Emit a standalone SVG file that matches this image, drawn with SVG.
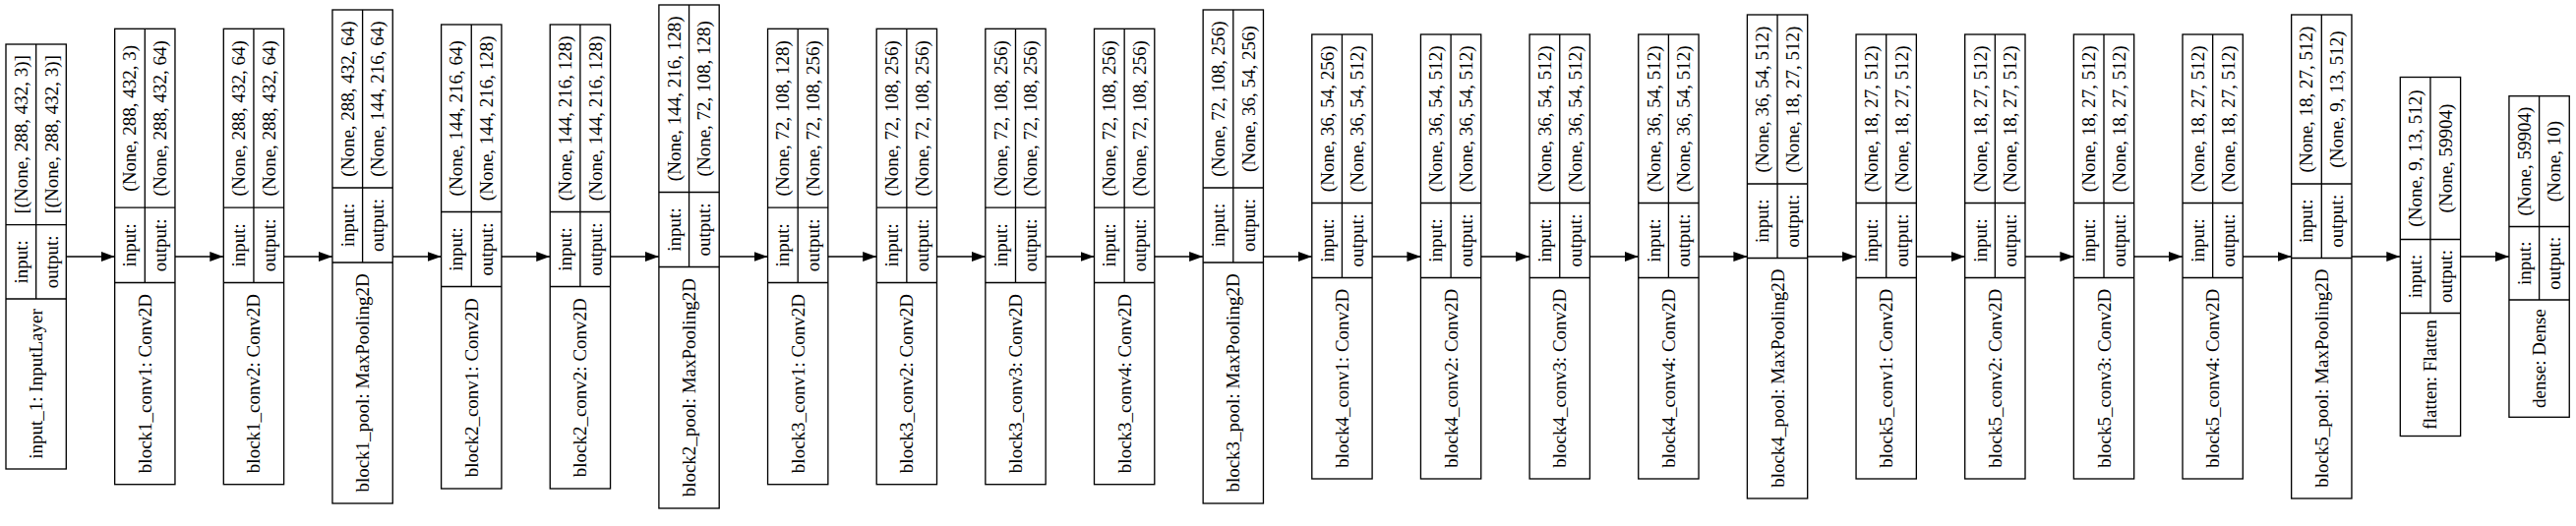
<svg xmlns="http://www.w3.org/2000/svg" width="2619" height="535" viewBox="0 0 2619 535">
<style>
.bg{fill:#fff}
.box{fill:#fff;stroke:#000;stroke-width:1.33}
.ln{stroke:#000;stroke-width:1.33}
text{font-family:"Liberation Serif","Times New Roman",serif;font-size:19px;text-anchor:middle;dominant-baseline:central;fill:#000}
.edge{stroke:#000;stroke-width:1.33;fill:none;marker-end:url(#arr)}
</style>
<defs>
<marker id="arr" markerUnits="userSpaceOnUse" markerWidth="14" markerHeight="10" refX="14" refY="5" orient="auto">
<path d="M0,0 L14,5 L0,10 z" fill="#000"/>
</marker>
</defs>
<rect class="bg" x="0" y="0" width="2619" height="535"/>
<g id="connectors">
<path class="edge" d="M67.3,261 H116.65"/>
<path class="edge" d="M177.95,261 H227.3"/>
<path class="edge" d="M288.6,261 H337.95"/>
<path class="edge" d="M399.25,261 H448.6"/>
<path class="edge" d="M509.9,261 H559.25"/>
<path class="edge" d="M620.55,261 H669.9"/>
<path class="edge" d="M731.2,261 H780.55"/>
<path class="edge" d="M841.85,261 H891.2"/>
<path class="edge" d="M952.5,261 H1001.85"/>
<path class="edge" d="M1063.15,261 H1112.5"/>
<path class="edge" d="M1173.8,261 H1223.15"/>
<path class="edge" d="M1284.45,261 H1333.8"/>
<path class="edge" d="M1395.1,261 H1444.45"/>
<path class="edge" d="M1505.75,261 H1555.1"/>
<path class="edge" d="M1616.4,261 H1665.75"/>
<path class="edge" d="M1727.05,261 H1776.4"/>
<path class="edge" d="M1837.7,261 H1887.05"/>
<path class="edge" d="M1948.35,261 H1997.7"/>
<path class="edge" d="M2059,261 H2108.35"/>
<path class="edge" d="M2169.65,261 H2219"/>
<path class="edge" d="M2280.3,261 H2329.65"/>
<path class="edge" d="M2390.95,261 H2440.3"/>
<path class="edge" d="M2501.6,261 H2550.95"/>
</g>

<g id="input_1" transform="translate(6,0)">
<rect class="box" x="0" y="45" width="61.3" height="432"/>
<path class="ln" d="M0,228.7 H61.3 M0,304 H61.3 M30.65,45 V304"/>
<text transform="translate(15.3,136.85) rotate(-90)">[(None, 288, 432, 3)]</text>
<text transform="translate(46,136.85) rotate(-90)">[(None, 288, 432, 3)]</text>
<text transform="translate(15.3,266.35) rotate(-90)">input:</text>
<text transform="translate(46,266.35) rotate(-90)">output:</text>
<text transform="translate(30.65,390.5) rotate(-90)">input_1: InputLayer</text>
</g>

<g id="block1_conv1" transform="translate(116.65,0)">
<rect class="box" x="0" y="29.3" width="61.3" height="463.4"/>
<path class="ln" d="M0,211.2 H61.3 M0,287.5 H61.3 M30.65,29.3 V287.5"/>
<text transform="translate(15.3,120.25) rotate(-90)">(None, 288, 432, 3)</text>
<text transform="translate(46,120.25) rotate(-90)">(None, 288, 432, 64)</text>
<text transform="translate(15.3,249.35) rotate(-90)">input:</text>
<text transform="translate(46,249.35) rotate(-90)">output:</text>
<text transform="translate(30.65,390.1) rotate(-90)">block1_conv1: Conv2D</text>
</g>

<g id="block1_conv2" transform="translate(227.3,0)">
<rect class="box" x="0" y="29.3" width="61.3" height="463.4"/>
<path class="ln" d="M0,211.2 H61.3 M0,287.5 H61.3 M30.65,29.3 V287.5"/>
<text transform="translate(15.3,120.25) rotate(-90)">(None, 288, 432, 64)</text>
<text transform="translate(46,120.25) rotate(-90)">(None, 288, 432, 64)</text>
<text transform="translate(15.3,249.35) rotate(-90)">input:</text>
<text transform="translate(46,249.35) rotate(-90)">output:</text>
<text transform="translate(30.65,390.1) rotate(-90)">block1_conv2: Conv2D</text>
</g>

<g id="block1_pool" transform="translate(337.95,0)">
<rect class="box" x="0" y="10" width="61.3" height="502"/>
<path class="ln" d="M0,191 H61.3 M0,267 H61.3 M30.65,10 V267"/>
<text transform="translate(15.3,100.5) rotate(-90)">(None, 288, 432, 64)</text>
<text transform="translate(46,100.5) rotate(-90)">(None, 144, 216, 64)</text>
<text transform="translate(15.3,229) rotate(-90)">input:</text>
<text transform="translate(46,229) rotate(-90)">output:</text>
<text transform="translate(30.65,389.5) rotate(-90)">block1_pool: MaxPooling2D</text>
</g>

<g id="block2_conv1" transform="translate(448.6,0)">
<rect class="box" x="0" y="25" width="61.3" height="472"/>
<path class="ln" d="M0,215.5 H61.3 M0,291.5 H61.3 M30.65,25 V291.5"/>
<text transform="translate(15.3,120.25) rotate(-90)">(None, 144, 216, 64)</text>
<text transform="translate(46,120.25) rotate(-90)">(None, 144, 216, 128)</text>
<text transform="translate(15.3,253.5) rotate(-90)">input:</text>
<text transform="translate(46,253.5) rotate(-90)">output:</text>
<text transform="translate(30.65,394.25) rotate(-90)">block2_conv1: Conv2D</text>
</g>

<g id="block2_conv2" transform="translate(559.25,0)">
<rect class="box" x="0" y="25" width="61.3" height="472"/>
<path class="ln" d="M0,215.5 H61.3 M0,291.5 H61.3 M30.65,25 V291.5"/>
<text transform="translate(15.3,120.25) rotate(-90)">(None, 144, 216, 128)</text>
<text transform="translate(46,120.25) rotate(-90)">(None, 144, 216, 128)</text>
<text transform="translate(15.3,253.5) rotate(-90)">input:</text>
<text transform="translate(46,253.5) rotate(-90)">output:</text>
<text transform="translate(30.65,394.25) rotate(-90)">block2_conv2: Conv2D</text>
</g>

<g id="block2_pool" transform="translate(669.9,0)">
<rect class="box" x="0" y="5" width="61.3" height="512"/>
<path class="ln" d="M0,195.5 H61.3 M0,271.5 H61.3 M30.65,5 V271.5"/>
<text transform="translate(15.3,100.25) rotate(-90)">(None, 144, 216, 128)</text>
<text transform="translate(46,100.25) rotate(-90)">(None, 72, 108, 128)</text>
<text transform="translate(15.3,233.5) rotate(-90)">input:</text>
<text transform="translate(46,233.5) rotate(-90)">output:</text>
<text transform="translate(30.65,394.25) rotate(-90)">block2_pool: MaxPooling2D</text>
</g>

<g id="block3_conv1" transform="translate(780.55,0)">
<rect class="box" x="0" y="29.3" width="61.3" height="463.4"/>
<path class="ln" d="M0,211.2 H61.3 M0,287.5 H61.3 M30.65,29.3 V287.5"/>
<text transform="translate(15.3,120.25) rotate(-90)">(None, 72, 108, 128)</text>
<text transform="translate(46,120.25) rotate(-90)">(None, 72, 108, 256)</text>
<text transform="translate(15.3,249.35) rotate(-90)">input:</text>
<text transform="translate(46,249.35) rotate(-90)">output:</text>
<text transform="translate(30.65,390.1) rotate(-90)">block3_conv1: Conv2D</text>
</g>

<g id="block3_conv2" transform="translate(891.2,0)">
<rect class="box" x="0" y="29.3" width="61.3" height="463.4"/>
<path class="ln" d="M0,211.2 H61.3 M0,287.5 H61.3 M30.65,29.3 V287.5"/>
<text transform="translate(15.3,120.25) rotate(-90)">(None, 72, 108, 256)</text>
<text transform="translate(46,120.25) rotate(-90)">(None, 72, 108, 256)</text>
<text transform="translate(15.3,249.35) rotate(-90)">input:</text>
<text transform="translate(46,249.35) rotate(-90)">output:</text>
<text transform="translate(30.65,390.1) rotate(-90)">block3_conv2: Conv2D</text>
</g>

<g id="block3_conv3" transform="translate(1001.85,0)">
<rect class="box" x="0" y="29.3" width="61.3" height="463.4"/>
<path class="ln" d="M0,211.2 H61.3 M0,287.5 H61.3 M30.65,29.3 V287.5"/>
<text transform="translate(15.3,120.25) rotate(-90)">(None, 72, 108, 256)</text>
<text transform="translate(46,120.25) rotate(-90)">(None, 72, 108, 256)</text>
<text transform="translate(15.3,249.35) rotate(-90)">input:</text>
<text transform="translate(46,249.35) rotate(-90)">output:</text>
<text transform="translate(30.65,390.1) rotate(-90)">block3_conv3: Conv2D</text>
</g>

<g id="block3_conv4" transform="translate(1112.5,0)">
<rect class="box" x="0" y="29.3" width="61.3" height="463.4"/>
<path class="ln" d="M0,211.2 H61.3 M0,287.5 H61.3 M30.65,29.3 V287.5"/>
<text transform="translate(15.3,120.25) rotate(-90)">(None, 72, 108, 256)</text>
<text transform="translate(46,120.25) rotate(-90)">(None, 72, 108, 256)</text>
<text transform="translate(15.3,249.35) rotate(-90)">input:</text>
<text transform="translate(46,249.35) rotate(-90)">output:</text>
<text transform="translate(30.65,390.1) rotate(-90)">block3_conv4: Conv2D</text>
</g>

<g id="block3_pool" transform="translate(1223.15,0)">
<rect class="box" x="0" y="10" width="61.3" height="502"/>
<path class="ln" d="M0,191 H61.3 M0,267 H61.3 M30.65,10 V267"/>
<text transform="translate(15.3,100.5) rotate(-90)">(None, 72, 108, 256)</text>
<text transform="translate(46,100.5) rotate(-90)">(None, 36, 54, 256)</text>
<text transform="translate(15.3,229) rotate(-90)">input:</text>
<text transform="translate(46,229) rotate(-90)">output:</text>
<text transform="translate(30.65,389.5) rotate(-90)">block3_pool: MaxPooling2D</text>
</g>

<g id="block4_conv1" transform="translate(1333.8,0)">
<rect class="box" x="0" y="35" width="61.3" height="452"/>
<path class="ln" d="M0,206.5 H61.3 M0,282.5 H61.3 M30.65,35 V282.5"/>
<text transform="translate(15.3,120.75) rotate(-90)">(None, 36, 54, 256)</text>
<text transform="translate(46,120.75) rotate(-90)">(None, 36, 54, 512)</text>
<text transform="translate(15.3,244.5) rotate(-90)">input:</text>
<text transform="translate(46,244.5) rotate(-90)">output:</text>
<text transform="translate(30.65,384.75) rotate(-90)">block4_conv1: Conv2D</text>
</g>

<g id="block4_conv2" transform="translate(1444.45,0)">
<rect class="box" x="0" y="35" width="61.3" height="452"/>
<path class="ln" d="M0,206.5 H61.3 M0,282.5 H61.3 M30.65,35 V282.5"/>
<text transform="translate(15.3,120.75) rotate(-90)">(None, 36, 54, 512)</text>
<text transform="translate(46,120.75) rotate(-90)">(None, 36, 54, 512)</text>
<text transform="translate(15.3,244.5) rotate(-90)">input:</text>
<text transform="translate(46,244.5) rotate(-90)">output:</text>
<text transform="translate(30.65,384.75) rotate(-90)">block4_conv2: Conv2D</text>
</g>

<g id="block4_conv3" transform="translate(1555.1,0)">
<rect class="box" x="0" y="35" width="61.3" height="452"/>
<path class="ln" d="M0,206.5 H61.3 M0,282.5 H61.3 M30.65,35 V282.5"/>
<text transform="translate(15.3,120.75) rotate(-90)">(None, 36, 54, 512)</text>
<text transform="translate(46,120.75) rotate(-90)">(None, 36, 54, 512)</text>
<text transform="translate(15.3,244.5) rotate(-90)">input:</text>
<text transform="translate(46,244.5) rotate(-90)">output:</text>
<text transform="translate(30.65,384.75) rotate(-90)">block4_conv3: Conv2D</text>
</g>

<g id="block4_conv4" transform="translate(1665.75,0)">
<rect class="box" x="0" y="35" width="61.3" height="452"/>
<path class="ln" d="M0,206.5 H61.3 M0,282.5 H61.3 M30.65,35 V282.5"/>
<text transform="translate(15.3,120.75) rotate(-90)">(None, 36, 54, 512)</text>
<text transform="translate(46,120.75) rotate(-90)">(None, 36, 54, 512)</text>
<text transform="translate(15.3,244.5) rotate(-90)">input:</text>
<text transform="translate(46,244.5) rotate(-90)">output:</text>
<text transform="translate(30.65,384.75) rotate(-90)">block4_conv4: Conv2D</text>
</g>

<g id="block4_pool" transform="translate(1776.4,0)">
<rect class="box" x="0" y="15" width="61.3" height="492"/>
<path class="ln" d="M0,187 H61.3 M0,262.5 H61.3 M30.65,15 V262.5"/>
<text transform="translate(15.3,101) rotate(-90)">(None, 36, 54, 512)</text>
<text transform="translate(46,101) rotate(-90)">(None, 18, 27, 512)</text>
<text transform="translate(15.3,224.75) rotate(-90)">input:</text>
<text transform="translate(46,224.75) rotate(-90)">output:</text>
<text transform="translate(30.65,384.75) rotate(-90)">block4_pool: MaxPooling2D</text>
</g>

<g id="block5_conv1" transform="translate(1887.05,0)">
<rect class="box" x="0" y="35" width="61.3" height="452"/>
<path class="ln" d="M0,206.5 H61.3 M0,282.5 H61.3 M30.65,35 V282.5"/>
<text transform="translate(15.3,120.75) rotate(-90)">(None, 18, 27, 512)</text>
<text transform="translate(46,120.75) rotate(-90)">(None, 18, 27, 512)</text>
<text transform="translate(15.3,244.5) rotate(-90)">input:</text>
<text transform="translate(46,244.5) rotate(-90)">output:</text>
<text transform="translate(30.65,384.75) rotate(-90)">block5_conv1: Conv2D</text>
</g>

<g id="block5_conv2" transform="translate(1997.7,0)">
<rect class="box" x="0" y="35" width="61.3" height="452"/>
<path class="ln" d="M0,206.5 H61.3 M0,282.5 H61.3 M30.65,35 V282.5"/>
<text transform="translate(15.3,120.75) rotate(-90)">(None, 18, 27, 512)</text>
<text transform="translate(46,120.75) rotate(-90)">(None, 18, 27, 512)</text>
<text transform="translate(15.3,244.5) rotate(-90)">input:</text>
<text transform="translate(46,244.5) rotate(-90)">output:</text>
<text transform="translate(30.65,384.75) rotate(-90)">block5_conv2: Conv2D</text>
</g>

<g id="block5_conv3" transform="translate(2108.35,0)">
<rect class="box" x="0" y="35" width="61.3" height="452"/>
<path class="ln" d="M0,206.5 H61.3 M0,282.5 H61.3 M30.65,35 V282.5"/>
<text transform="translate(15.3,120.75) rotate(-90)">(None, 18, 27, 512)</text>
<text transform="translate(46,120.75) rotate(-90)">(None, 18, 27, 512)</text>
<text transform="translate(15.3,244.5) rotate(-90)">input:</text>
<text transform="translate(46,244.5) rotate(-90)">output:</text>
<text transform="translate(30.65,384.75) rotate(-90)">block5_conv3: Conv2D</text>
</g>

<g id="block5_conv4" transform="translate(2219,0)">
<rect class="box" x="0" y="35" width="61.3" height="452"/>
<path class="ln" d="M0,206.5 H61.3 M0,282.5 H61.3 M30.65,35 V282.5"/>
<text transform="translate(15.3,120.75) rotate(-90)">(None, 18, 27, 512)</text>
<text transform="translate(46,120.75) rotate(-90)">(None, 18, 27, 512)</text>
<text transform="translate(15.3,244.5) rotate(-90)">input:</text>
<text transform="translate(46,244.5) rotate(-90)">output:</text>
<text transform="translate(30.65,384.75) rotate(-90)">block5_conv4: Conv2D</text>
</g>

<g id="block5_pool" transform="translate(2329.65,0)">
<rect class="box" x="0" y="15" width="61.3" height="492"/>
<path class="ln" d="M0,187 H61.3 M0,262.5 H61.3 M30.65,15 V262.5"/>
<text transform="translate(15.3,101) rotate(-90)">(None, 18, 27, 512)</text>
<text transform="translate(46,101) rotate(-90)">(None, 9, 13, 512)</text>
<text transform="translate(15.3,224.75) rotate(-90)">input:</text>
<text transform="translate(46,224.75) rotate(-90)">output:</text>
<text transform="translate(30.65,384.75) rotate(-90)">block5_pool: MaxPooling2D</text>
</g>

<g id="flatten" transform="translate(2440.3,0)">
<rect class="box" x="0" y="78.5" width="61.3" height="365"/>
<path class="ln" d="M0,243.5 H61.3 M0,318.5 H61.3 M30.65,78.5 V318.5"/>
<text transform="translate(15.3,161) rotate(-90)">(None, 9, 13, 512)</text>
<text transform="translate(46,161) rotate(-90)">(None, 59904)</text>
<text transform="translate(15.3,281) rotate(-90)">input:</text>
<text transform="translate(46,281) rotate(-90)">output:</text>
<text transform="translate(30.65,381) rotate(-90)">flatten: Flatten</text>
</g>

<g id="dense" transform="translate(2550.95,0)">
<rect class="box" x="0" y="97.7" width="61.3" height="326.6"/>
<path class="ln" d="M0,230.5 H61.3 M0,305 H61.3 M30.65,97.7 V305"/>
<text transform="translate(15.3,164.1) rotate(-90)">(None, 59904)</text>
<text transform="translate(46,164.1) rotate(-90)">(None, 10)</text>
<text transform="translate(15.3,267.75) rotate(-90)">input:</text>
<text transform="translate(46,267.75) rotate(-90)">output:</text>
<text transform="translate(30.65,364.65) rotate(-90)">dense: Dense</text>
</g>
</svg>
